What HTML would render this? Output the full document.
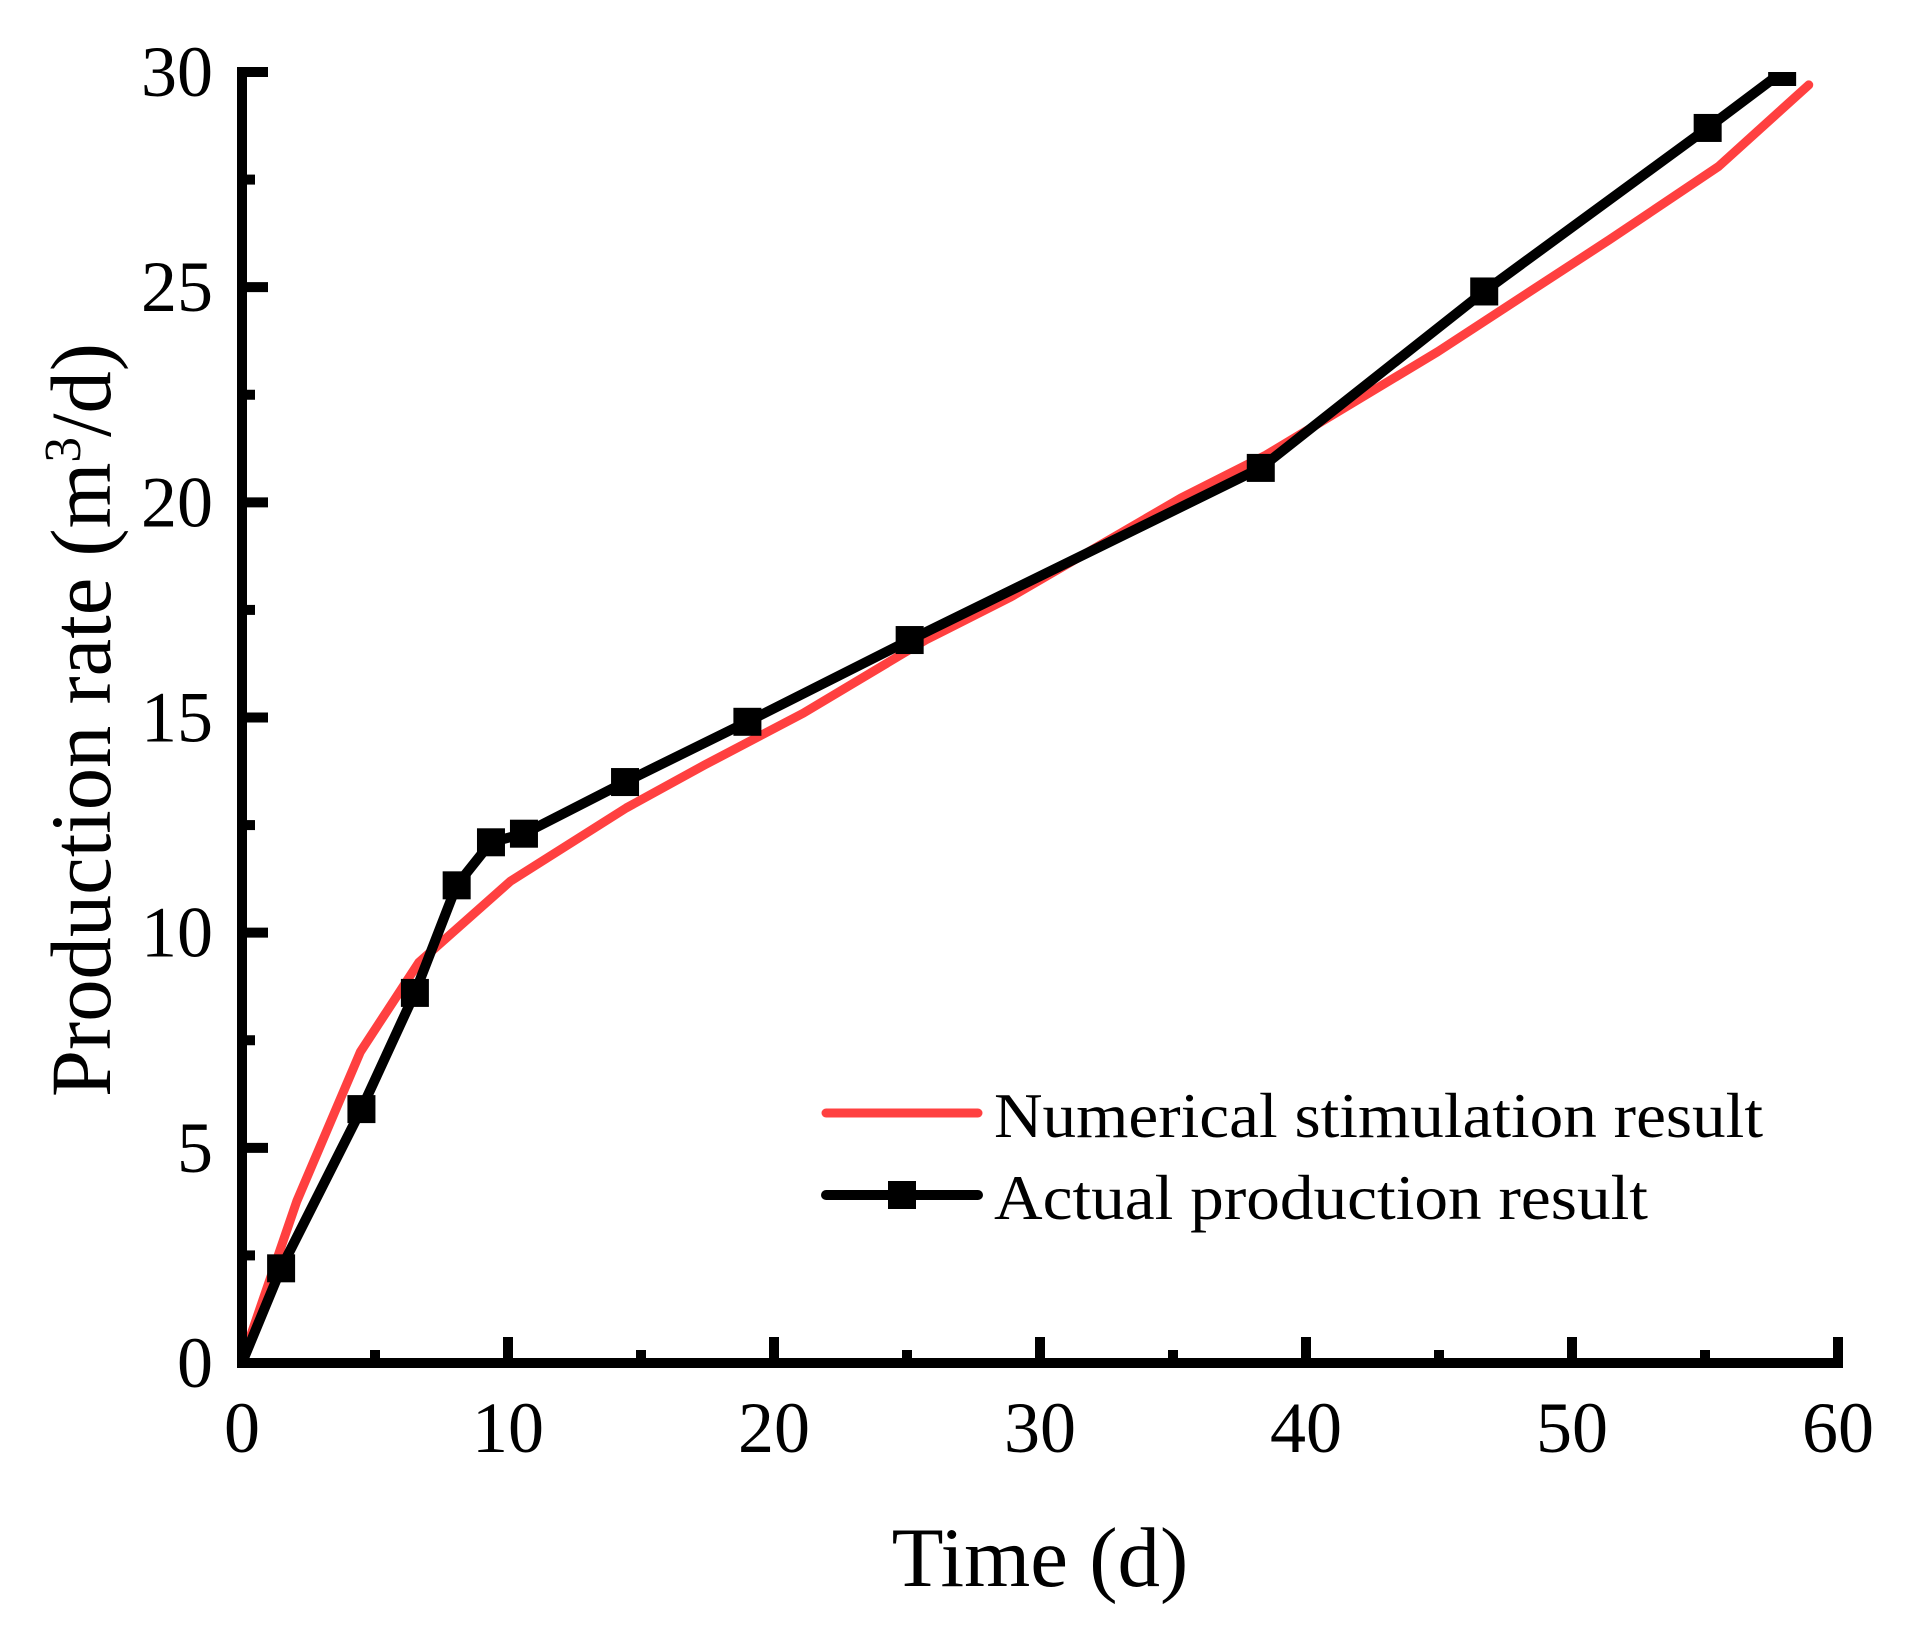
<!DOCTYPE html>
<html><head><meta charset="utf-8"><style>
html,body{margin:0;padding:0;background:#fff;}
svg{display:block;font-family:"Liberation Serif",serif;}
</style></head><body>
<svg id="chart" width="1912" height="1640" viewBox="0 0 1912 1640">
<defs><clipPath id="plotclip"><rect x="242" y="72" width="1620" height="1293"/></clipPath></defs>
<g id="grid-ticks"></g>
<g id="series" clip-path="url(#plotclip)"></g>
<line x1="242" y1="67" x2="242" y2="1368" stroke="#000" stroke-width="10"/>
<line x1="237" y1="1363" x2="1843" y2="1363" stroke="#000" stroke-width="10"/>
<g id="labels"></g>
<text x="1040" y="1586" font-size="85" text-anchor="middle">Time (d)</text>
<text transform="translate(110,720) rotate(-90)" font-size="86" text-anchor="middle" textLength="754" lengthAdjust="spacingAndGlyphs">Production rate (m<tspan dy="-30" font-size="52">3</tspan><tspan dy="30">/d)</tspan></text>
<g>
<line x1="826" y1="1113" x2="978" y2="1113" stroke="#ff4040" stroke-width="9" stroke-linecap="round"/>
<text x="994" y="1137" font-size="64" textLength="769" lengthAdjust="spacingAndGlyphs">Numerical stimulation result</text>
<line x1="826" y1="1195" x2="978" y2="1195" stroke="#000" stroke-width="10" stroke-linecap="round"/>
<rect x="888" y="1181" width="28" height="28" fill="#000"/>
<text x="994" y="1219" font-size="64" textLength="654" lengthAdjust="spacingAndGlyphs">Actual production result</text>
</g>
</svg>
<script>
const xTicks = [0,10,20,30,40,50,60];
const yTicks = [0,5,10,15,20,25,30];
const numX = [0,2.06,4.45,6.65,10.1,14.45,17.4,21.1,25.7,28.9,35.3,38.5,44.95,51.4,55.5,58.9];
const numY = [0.05,3.76,7.23,9.31,11.2,12.9,13.9,15.1,16.8,17.8,20.1,21.1,23.5,26.1,27.8,29.7];
const actX = [0,1.47,4.49,6.5,8.07,9.36,10.6,14.4,19.0,25.1,38.3,46.7,55.1,57.9];
const actY = [0,2.2,5.9,8.6,11.1,12.1,12.3,13.5,14.9,16.8,20.8,24.9,28.7,30];
const NS='http://www.w3.org/2000/svg';
const X0=242, XPX=1596/60, Y0=1363, YPX=1291/30;
function sx(v){return X0+v*XPX;}
function sy(v){return Y0-v*YPX;}
const ticks=document.getElementById('grid-ticks');
const labels=document.getElementById('labels');
for(let i=0;i<=12;i++){
  const v=i*5, major=i%2===0;
  const t=document.createElementNS(NS,'line');
  t.setAttribute('x1',sx(v));t.setAttribute('x2',sx(v));
  t.setAttribute('y1',Y0);t.setAttribute('y2',Y0-(major?26:13));
  t.setAttribute('stroke','#000');t.setAttribute('stroke-width','10');
  
  
  ticks.appendChild(t);
  const u=document.createElementNS(NS,'line');
  const yv=i*2.5;
  u.setAttribute('x1',X0);u.setAttribute('x2',X0+(major?26:13));
  u.setAttribute('y1',sy(yv));u.setAttribute('y2',sy(yv));
  u.setAttribute('stroke','#000');u.setAttribute('stroke-width','10');
  
  
  ticks.appendChild(u);
}
xTicks.forEach(v=>{
  const t=document.createElementNS(NS,'text');
  t.setAttribute('x',sx(v));t.setAttribute('y',1452);
  t.setAttribute('font-size','72');t.setAttribute('text-anchor','middle');
  t.textContent=v;
  
  
  labels.appendChild(t);
});
yTicks.forEach(v=>{
  const t=document.createElementNS(NS,'text');
  t.setAttribute('x',213);t.setAttribute('y',sy(v)+24);
  t.setAttribute('font-size','72');t.setAttribute('text-anchor','end');
  t.textContent=v;
  
  
  labels.appendChild(t);
});
const series=document.getElementById('series');
const red=document.createElementNS(NS,'polyline');
red.setAttribute('points',numX.map((x,i)=>sx(x)+','+sy(numY[i])).join(' '));
red.setAttribute('fill','none');red.setAttribute('stroke','#ff4040');red.setAttribute('stroke-width','9');
red.setAttribute('stroke-linejoin','round');red.setAttribute('stroke-linecap','round');


series.appendChild(red);
const blk=document.createElementNS(NS,'polyline');
blk.setAttribute('points',actX.map((x,i)=>sx(x)+','+sy(actY[i])).join(' '));
blk.setAttribute('fill','none');blk.setAttribute('stroke','#000');blk.setAttribute('stroke-width','10');


series.appendChild(blk);
actX.forEach((x,i)=>{
  if(i===0)return;
  const r=document.createElementNS(NS,'rect');
  r.setAttribute('x',sx(x)-14);r.setAttribute('y',sy(actY[i])-14);
  r.setAttribute('width',28);r.setAttribute('height',28);r.setAttribute('fill','#000');
  
  
  series.appendChild(r);
});
</script>
</body></html>
